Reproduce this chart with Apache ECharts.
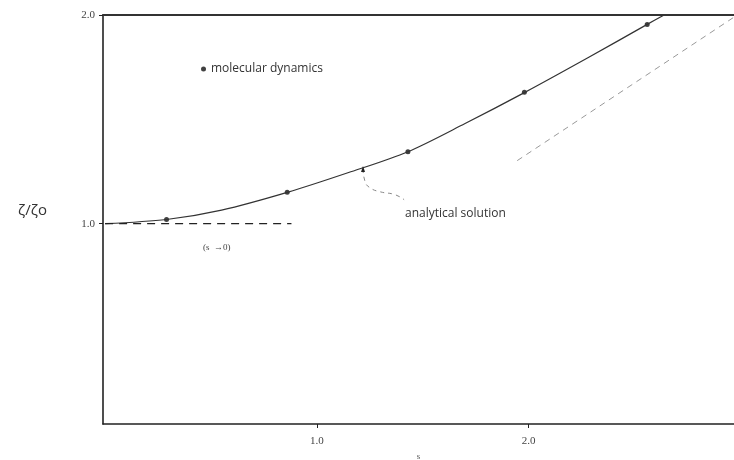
<!DOCTYPE html>
<html>
<head>
<meta charset="utf-8">
<script src="https://cdn.jsdelivr.net/npm/echarts@6/dist/echarts.min.js"></script>
<style>
  html, body { margin: 0; padding: 0; background: #fff; }
  #chart { width: 734px; height: 460px; }
</style>
</head>
<body>
<div id="chart"></div>
<script>
// analytical solution
const curveX = [0, 0.29, 0.55, 0.86, 1.15, 1.43, 1.7, 1.98, 2.28, 2.56, 2.64];
const curveY = [1.0, 1.02, 1.065, 1.15, 1.245, 1.345, 1.48, 1.628, 1.795, 1.955, 2.0];

// molecular dynamics points
const mdX = [0.29, 0.86, 1.43, 1.98, 2.56];
const mdY = [1.02, 1.15, 1.345, 1.63, 1.955];

// (s -> 0) limit, dashed
const limitX = [0, 0.88];
const limitY = [1.0, 1.0];

// faint dash-dot line on the right
const faintX = [1.946, 2.966];
const faintY = [1.302, 1.987];

// leader from the curve to the "analytical solution" label
const leaderX = [1.218, 1.228, 1.251, 1.298, 1.369, 1.412];
const leaderY = [1.262, 1.201, 1.172, 1.153, 1.139, 1.115];

const tickValues = [1, 2];

const zip = (xs, ys) => xs.map((x, i) => [x, ys[i]]);

const chart = echarts.init(document.getElementById('chart'));
const axisColor = '#222';

const option = {
  backgroundColor: '#fff',
  animation: false,
  grid: { left: 103, top: 15, right: 0, bottom: 36, outerBoundsMode: 'none', containLabel: false },
  legend: {
    data: ['molecular dynamics'],
    left: 196, top: 58,
    icon: 'circle', itemWidth: 5, itemHeight: 5,
    textStyle: { fontFamily: 'Open Sans', fontSize: 12, color: '#333' }
  },
  xAxis: [
    {
      type: 'value', min: -0.01, max: 2.97,
      name: 's', nameLocation: 'middle', nameGap: 27,
      nameTextStyle: { fontFamily: 'Liberation Serif', fontSize: 9, color: '#555' },
      axisLine: { onZero: false, lineStyle: { color: axisColor, width: 1.6 } },
      axisTick: { customValues: tickValues, length: 4, lineStyle: { color: axisColor } },
      axisLabel: {
        customValues: tickValues, margin: 12,
        formatter: v => v.toFixed(1),
        fontFamily: 'Liberation Serif', fontSize: 11, color: '#444'
      },
      splitLine: { show: false }
    },
    {
      type: 'value', min: -0.01, max: 2.97, position: 'top',
      axisLine: { onZero: false, lineStyle: { color: '#333', width: 2 } },
      axisTick: { show: false }, axisLabel: { show: false }, splitLine: { show: false }
    }
  ],
  yAxis: {
    type: 'value', min: 0.04, max: 2,
    axisLine: { onZero: false, lineStyle: { color: axisColor, width: 1.6 } },
    axisTick: { customValues: tickValues, length: 4, lineStyle: { color: axisColor } },
    axisLabel: {
      customValues: tickValues, margin: 8,
      formatter: v => v.toFixed(1),
      fontFamily: 'Liberation Serif', fontSize: 11, color: '#444'
    },
    splitLine: { show: false }
  },
  graphic: [
    {
      type: 'text', left: 18, top: 203,
      style: { text: 'ζ/ζo', font: '15px "Open Sans"', fill: '#333' }
    },
    {
      type: 'text', left: 405, top: 208,
      style: { text: 'analytical solution', font: '12px "Open Sans"', fill: '#333' }
    },
    {
      type: 'text', left: 203, top: 243,
      style: { text: '(s  →0)', font: '9px "Liberation Serif"', fill: '#444' }
    }
  ],
  series: [
    {
      type: 'line', data: zip(curveX, curveY), smooth: 0.3,
      showSymbol: false, silent: true,
      lineStyle: { color: '#333', width: 1.2 }
    },
    {
      name: 'molecular dynamics', type: 'scatter', data: zip(mdX, mdY),
      symbolSize: 5, itemStyle: { color: '#111' }
    },
    {
      type: 'line', data: zip(limitX, limitY), showSymbol: false,
      lineStyle: { color: '#222', width: 1.2, type: [8, 6] }
    },
    {
      type: 'line', data: zip(faintX, faintY), showSymbol: false,
      lineStyle: { color: '#999', width: 1, type: [6, 5] }
    },
    {
      type: 'line', smooth: 0.5,
      data: zip(leaderX, leaderY).map((p, i) => i === 0
        ? { value: p, symbol: 'triangle', symbolSize: [4, 6] }
        : { value: p, symbol: 'none' }),
      itemStyle: { color: '#222' },
      lineStyle: { color: '#888', width: 1, type: [4, 4] }
    }
  ]
};

chart.setOption(option);
</script>
</body>
</html>
